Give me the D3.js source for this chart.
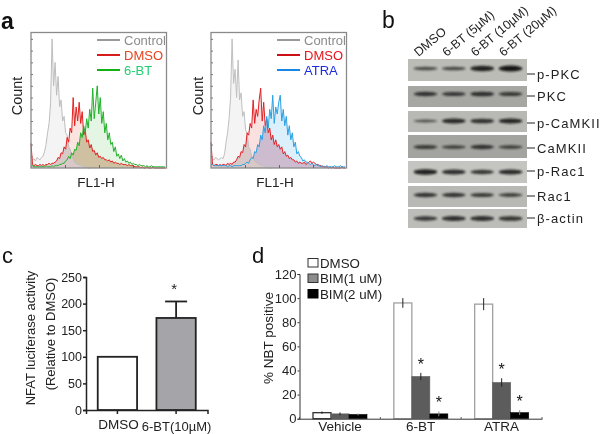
<!DOCTYPE html>
<html><head><meta charset="utf-8">
<script src="https://cdn.jsdelivr.net/npm/d3@7/dist/d3.min.js"></script>
<style>html,body{margin:0;padding:0;background:#fff}svg{display:block;font-family:"Liberation Sans",Arial,sans-serif;filter:blur(0.3px)}</style>
</head><body><svg id="c" width="600" height="434"></svg>
<script>
// ---------- Panel a / flow histograms (counts per channel bin) ----------
const controlA=[9,7,8,6,9,8,7,9,10,14,20,30,38,55,110,70,90,62,78,52,58,40,44,30,28,18,16,10,8,5,4,3,3,2,2,1,1,1,0,0];
const dmsoA=[21,3,2,3,2,2,3,2,3,2,3,3,4,3,4,4,5,6,9,8,13,12,18,16,26,22,34,30,60,36,52,40,56,38,48,28,32,22,24,17,20,14,15,11,13,9,10,8,9,7,7,6,7,5,6,4,5,4,4,3,4,3,3,3,2,3,2,2,2,1,1,1,1,0,1,0,0,1,0,0,0,1,0,0,0,0,0,0,0,0];
const bt6A=[1,2,1,1,1,1,1,1,1,1,2,1,1,1,2,1,2,2,2,3,3,4,4,6,7,10,8,13,11,16,15,22,19,30,26,36,30,42,34,50,40,68,42,56,70,46,60,38,48,30,38,24,30,20,22,14,18,10,12,8,11,6,8,5,6,4,5,3,4,3,3,2,3,2,2,2,1,2,1,1,2,1,1,1,1,1,1,1,1,1];
const controlB=[9,8,7,9,8,7,8,9,8,12,22,30,42,60,110,72,84,60,92,58,64,44,48,32,30,18,16,10,9,6,5,4,3,3,2,2,1,1,1,0,0];
const dmsoB=[22,3,2,3,3,2,3,2,3,3,2,4,3,4,3,5,5,7,10,9,14,13,20,18,30,28,38,34,58,38,50,44,58,68,40,56,36,42,30,34,24,28,20,24,18,20,16,18,12,14,10,11,8,9,7,7,5,6,4,5,4,4,5,3,4,5,6,4,5,4,3,3,2,2,1,1,1,1,0,1,0,1,0,0,0,0,0,1,0,0];
const atraB=[3,3,2,2,2,2,2,2,2,2,2,1,2,2,1,2,2,2,2,2,2,3,3,4,5,4,7,9,8,14,13,20,18,28,24,36,30,44,34,50,42,62,38,52,46,56,62,40,50,36,44,28,36,24,30,18,22,12,14,10,9,6,7,5,5,4,3,4,3,2,3,2,2,1,2,1,1,2,1,1,1,1,2,1,1,1,2,1,1,1];
const histLabels=["Control","DMSO"];
const histLabelA="6-BT", histLabelB="ATRA";

// ---------- Panel b / western blot ----------
const laneNames=["DMSO","6-BT (5µM)","6-BT (10µM)","6-BT (20µM)"];
const proteins=["p-PKC","PKC","p-CaMKII","CaMKII","p-Rac1","Rac1","β-actin"];
const pPKC=[.45,.5,.95,1.1];
const PKC=[.7,.65,.75,.65];
const pCaMKII=[.35,.85,.75,.9];
const CaMKII=[.6,.5,.7,.5];
const pRac1=[.95,.8,.7,.85];
const Rac1=[.7,.7,.65,.55];
const bActin=[.7,.8,.8,.75];
const blot=[pPKC,PKC,pCaMKII,CaMKII,pRac1,Rac1,bActin];

// ---------- Panel c ----------
const cCats=["DMSO","6-BT(10µM)"];
const cVals=[100,173];
const cErr=[0,31];

// ---------- Panel d ----------
const dCats=["Vehicle","6-BT","ATRA"];
const dSeries=["DMSO","BIM(1 uM)","BIM(2 uM)"];
const dDMSO=[5,96,95], dBIM1=[4,35,30], dBIM2=[3.5,4,5];
const dDMSOerr=[1,4,5], dBIM1err=[1.2,3,3.5], dBIM2err=[.8,2,2];
const dStarsBIM1=[false,true,true], dStarsBIM2=[false,true,true];

const svg=d3.select("#c");
const defs=svg.append("defs");
defs.append("filter").attr("id","soft").attr("x","-20%").attr("y","-60%").attr("width","140%").attr("height","220%")
  .append("feGaussianBlur").attr("stdDeviation","0.9");
const txt=(g,x,y,s,size,fill="#222",anchor="start",extra={})=>{
  const t=g.append("text").attr("x",x).attr("y",y).text(s).attr("font-size",size).attr("fill",fill).attr("text-anchor",anchor);
  Object.entries(extra).forEach(([k,v])=>t.attr(k,v)); return t;};
const rot=(g,x,y,s,size,fill="#222")=>g.append("text").attr("transform",`translate(${x},${y}) rotate(-90)`).attr("text-anchor","middle").attr("font-size",size).attr("fill",fill).text(s);

// panel letters
txt(svg,1,29,"a",23,"#111","start",{"font-weight":"bold"});
txt(svg,382,28,"b",23,"#111");
txt(svg,2,263,"c",22,"#111");
txt(svg,252,263,"d",22,"#111");

// ---------- histograms ----------
function hist(x0,series,overlapFill,lastLabel,lastLabelColor,dmsoLabelColor,lineColors,countX,lblX){
  const g=svg.append("g");
  const W=135.5,top=33,bot=168;
  const x=d3.scaleLinear().domain([0,89]).range([x0,x0+134]);
  const y=d3.scaleLinear().domain([0,115]).range([bot,top]);
  const area=d3.area().x((d,i)=>x(i)).y0(bot).y1(d=>y(d));
  const line=d3.line().x((d,i)=>x(i)).y(d=>y(d));
  series.forEach(s=>{
    g.append("path").datum(s.v).attr("d",area).attr("fill",s.fill);
  });
  const a=series[1].v,b=series[2].v;
  g.append("path").datum(a.map((d,i)=>Math.min(d,b[i]))).attr("d",area).attr("fill",overlapFill);
  const cc=series[0].v;
  g.append("path").datum(cc.map((d,i)=>Math.min(d,a[i]))).attr("d",area).attr("fill","#d8c8c8");
  series.forEach(s=>{
    g.append("path").datum(s.v).attr("d",line).attr("fill","none").attr("stroke",s.stroke).attr("stroke-width",1);
  });
  g.append("rect").attr("x",x0).attr("y",top-.5).attr("width",W).attr("height",bot-top+.5).attr("fill","none").attr("stroke","#8a8a8a").attr("stroke-width",1.3);
  const ya=d3.axisLeft(y).tickValues(d3.range(10,111,10)).tickSize(-2).tickFormat("");
  const yg=g.append("g").attr("transform",`translate(${x0},0)`).call(ya);
  yg.select(".domain").remove(); yg.selectAll("line").attr("stroke","#777");
  const xa=d3.axisBottom(d3.scaleLinear().domain([0,4]).range([x0,x0+136])).tickValues([1,2,3]).tickSize(-3).tickFormat("");
  const xg=g.append("g").attr("transform",`translate(0,${bot})`).call(xa);
  xg.select(".domain").remove(); xg.selectAll("line").attr("stroke","#666");
  // legend
  const lx=x0+66, names=[histLabels[0],histLabels[1],lastLabel], tc=["#8c8c8c",dmsoLabelColor,lastLabelColor];
  names.forEach((n,i)=>{
    const yy=40+i*15;
    g.append("line").attr("x1",lx).attr("x2",lx+23).attr("y1",yy).attr("y2",yy).attr("stroke",lineColors[i]).attr("stroke-width",2);
    txt(g,lx+27,yy+5,n,13,tc[i]);
  });
  rot(g,countX,96,"Count",14.5,"#222");
  txt(g,lblX,187,"FL1-H",13.5,"#222","middle");
}
hist(31,[{v:controlA,fill:"#f4f4f4",stroke:"#bdbdbd"},{v:dmsoA,fill:"#fbe3e0",stroke:"#e0211f"},{v:bt6A,fill:"#e4f5e4",stroke:"#22b02a"}],"#cfc0a2",
  histLabelA,"#1fcf72","#e8431e",["#999","#d81c1c","#15b015"],22,96);
hist(211,[{v:controlB,fill:"#f4f4f4",stroke:"#bfbfbf"},{v:dmsoB,fill:"#fbe0e0",stroke:"#e01f24"},{v:atraB,fill:"#dcf0fb",stroke:"#2aa0e2"}],"#cdbcd0",
  histLabelB,"#1c2ce0","#e6141c",["#999","#cc1018","#1a86e6"],203,275);

// ---------- western blot ----------
const bg=svg.append("g");
const rowTop=[59,86,111,135,161,186,209], rowH=[22,21,21,23,22,21,19], bandOff=[9.5,8,10,12,11,9,9.5], labelY=[74,96,123,148,171,196,218];
const rowBg=["#bcbcb6","#a6a6a2","#b8b8b4","#a3a39f","#c4c4c0","#b8b8b4","#bcbcb8"];
const lx=d3.scaleBand().domain(laneNames).range([409,527]).padding(0.16);
proteins.forEach((p,r)=>{
  const g=bg.append("g");
  const cid="rowclip"+r;
  defs.append("clipPath").attr("id",cid).append("rect").attr("x",408).attr("y",rowTop[r]).attr("width",119).attr("height",rowH[r]);
  g.append("rect").attr("x",408).attr("y",rowTop[r]).attr("width",119).attr("height",rowH[r]).attr("fill",rowBg[r]);
  const gb=g.append("g").attr("clip-path",`url(#${cid})`);
  gb.selectAll("ellipse").data(blot[r]).join("ellipse")
    .attr("cx",(d,i)=>lx(laneNames[i])+lx.bandwidth()/2)
    .attr("cy",rowTop[r]+bandOff[r])
    .attr("rx",lx.bandwidth()/2)
    .attr("ry",d=>.8+d*2)
    .attr("fill","#141414").attr("opacity",d=>Math.min(1,.45+d*.5))
    .attr("filter","url(#soft)");
  g.append("line").attr("x1",527).attr("x2",535).attr("y1",labelY[r]).attr("y2",labelY[r]).attr("stroke","#222");
  txt(g,537,labelY[r]+4.5,p,13,"#222","start",{"letter-spacing":"1.1px"});
});
laneNames.forEach((n,i)=>{
  const x=lx(n)+lx.bandwidth()/2-7;
  bg.append("text").attr("transform",`translate(${x},57) rotate(-40)`).attr("font-size",12.5).attr("fill","#222").text(n);
});

// ---------- panel c ----------
{
  const g=svg.append("g");
  const y=d3.scaleLinear().domain([0,250]).range([410,277]);
  const x=d3.scaleBand().domain(cCats).range([86,207.5]).paddingInner(.33).paddingOuter(.2);
  const ya=d3.axisLeft(y).tickValues([0,50,100,150,200,250]).tickSize(3).tickPadding(1);
  const yg=g.append("g").attr("transform","translate(86,0)").call(ya);
  const xa=d3.axisBottom(x).tickSize(4).tickFormat("");
  const xg=g.append("g").attr("transform","translate(0,410)").call(xa);
  [yg,xg].forEach(a=>{a.select(".domain").attr("stroke","#222").attr("stroke-width",1.5);a.selectAll("line").attr("stroke","#222").attr("stroke-width",1.5);});
  yg.selectAll("text").attr("font-size",12.5).attr("font-family","Liberation Sans").attr("fill","#222");
  g.selectAll(".b").data(cVals).join("rect").attr("x",(d,i)=>x(cCats[i])).attr("width",x.bandwidth())
    .attr("y",d=>y(d)).attr("height",d=>y(0)-y(d)).attr("fill",(d,i)=>i?"#a5a5a9":"#fff").attr("stroke","#222").attr("stroke-width",1.8);
  const cx=x(cCats[1])+x.bandwidth()/2;
  g.append("line").attr("x1",cx).attr("x2",cx).attr("y1",y(cVals[1])).attr("y2",y(cVals[1]+cErr[1])).attr("stroke","#222").attr("stroke-width",1.8);
  g.append("line").attr("x1",cx-11).attr("x2",cx+11).attr("y1",y(cVals[1]+cErr[1])).attr("y2",y(cVals[1]+cErr[1])).attr("stroke","#222").attr("stroke-width",1.8);
  txt(g,cx-2,294,"*",15,"#222","middle");
  txt(g,x(cCats[0])+x.bandwidth()/2+1,429,cCats[0],13.5,"#222","middle");
  txt(g,cx+.5,431,cCats[1],13,"#222","middle");
  rot(g,35,338,"NFAT luciferase activity",13,"#222");
  rot(g,55,334,"(Relative to DMSO)",13,"#222");
}

// ---------- panel d ----------
{
  const g=svg.append("g");
  const y=d3.scaleLinear().domain([0,120]).range([418.7,274]);
  const x=d3.scaleBand().domain(dCats).range([299.5,542]);
  const sub=d3.scaleBand().domain(dSeries).range([13.5,67.5]);
  const vals=[dDMSO,dBIM1,dBIM2], errs=[dDMSOerr,dBIM1err,dBIM2err];
  const fills=["#fff","#5c5c5c","#000"], strokes=["#a0a0a0","#5c5c5c","#000"];
  dSeries.forEach((s,k)=>{
    g.selectAll(".bar"+k).data(vals[k]).join("rect").attr("x",(d,i)=>x(dCats[i])+sub(s)).attr("width",sub.bandwidth())
      .attr("y",d=>y(d)).attr("height",d=>y(0)-y(d)).attr("fill",fills[k])
      .attr("stroke",(d,i)=>k===0&&i===0?"#333":strokes[k]).attr("stroke-width",k===0?1.3:.6);
    vals[k].forEach((v,i)=>{
      const cx=x(dCats[i])+sub(s)+sub.bandwidth()/2, e=errs[k][i];
      g.append("line").attr("x1",cx).attr("x2",cx).attr("y1",y(v+e)).attr("y2",y(v-e)).attr("stroke",k===2?"#888":"#222").attr("stroke-width",1);
    });
  });
  const star=(arr,k,off)=>arr.forEach((f,i)=>{ if(!f) return;
    const cx=x(dCats[i])+sub(dSeries[k])+sub.bandwidth()/2;
    txt(g,cx,y(vals[k][i]+errs[k][i])-off,"*",16,"#111","middle");});
  star(dStarsBIM1,1,3); star(dStarsBIM2,2,3);
  const ya=d3.axisLeft(y).tickValues(d3.range(0,121,20)).tickSize(2).tickPadding(1);
  const yg=g.append("g").attr("transform","translate(299.5,0)").call(ya);
  const xa=d3.axisBottom(x).tickSize(0).tickFormat("");
  const xg=g.append("g").attr("transform","translate(0,418.7)").call(xa);
  [yg,xg].forEach(a=>{a.select(".domain").attr("stroke","#333").attr("stroke-width",1);a.selectAll("line").attr("stroke","#333");});
  yg.selectAll("text").attr("font-size",13).attr("font-family","Liberation Sans").attr("fill","#222");
  xg.selectAll(".sep").data([...dCats.map(c=>x(c)),542]).join("line").attr("class","sep").attr("x1",d=>d).attr("x2",d=>d).attr("y1",0).attr("y2",-1.5).attr("stroke","#333");
  dCats.forEach(c=>txt(g,x(c)+x.bandwidth()/2,431,c,13.5,"#222","middle"));
  rot(g,273,338,"% NBT positive",13.5,"#222");
  dSeries.forEach((s,i)=>{
    const yy=258.5+i*15.5;
    g.append("rect").attr("x",308).attr("y",yy).attr("width",10).attr("height",8.5).attr("fill",["#fff","#8c8c8c","#000"][i]).attr("stroke",i===2?"#000":"#333").attr("stroke-width",1);
    txt(g,320,yy+9,s,13.3,"#222");
  });
}
</script></body></html>
